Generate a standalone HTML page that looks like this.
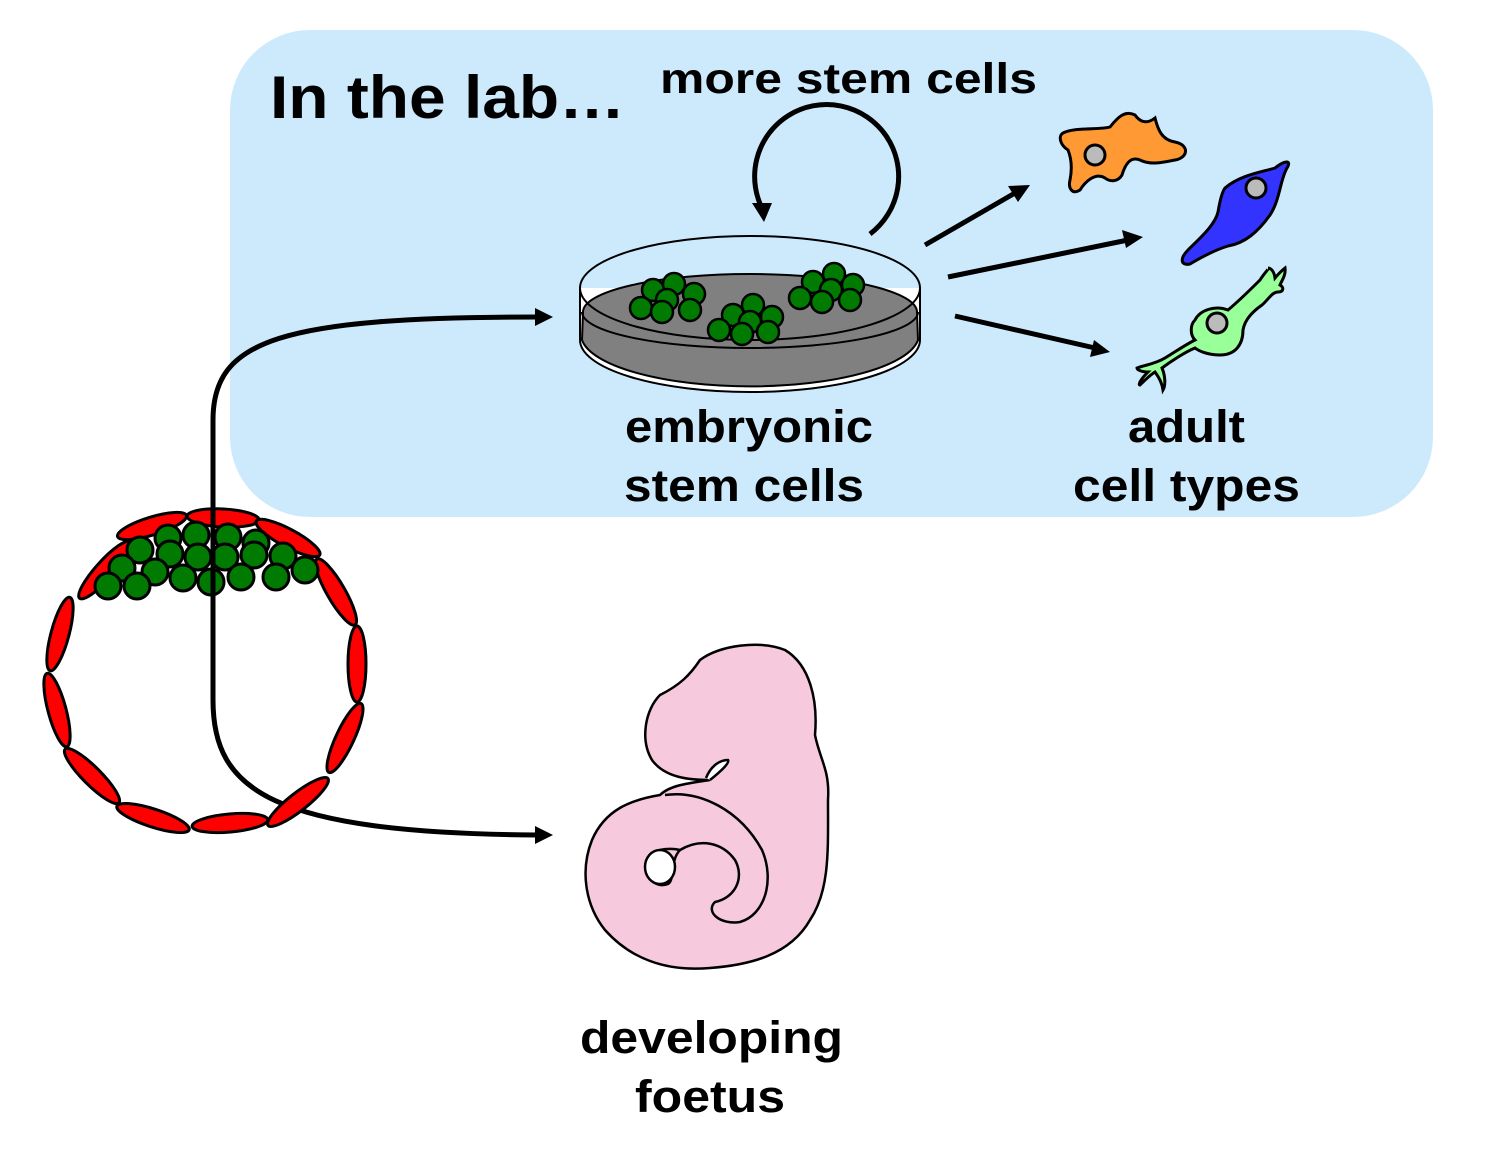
<!DOCTYPE html>
<html><head><style>
html,body{margin:0;padding:0;background:#fff;}
svg{display:block;}
text{font-family:"Liberation Sans",Arial,sans-serif;font-weight:bold;fill:#000;}
</style></head><body>
<svg width="1500" height="1153" viewBox="0 0 1500 1153" xmlns="http://www.w3.org/2000/svg">
<rect x="230" y="30" width="1203" height="487" rx="80" fill="#cdeafd"/>
<text x="270" y="118" font-size="60" textLength="355" lengthAdjust="spacingAndGlyphs">In the lab…</text>
<text x="660" y="93" font-size="43" textLength="377" lengthAdjust="spacingAndGlyphs">more stem cells</text>
<text x="625" y="442" font-size="45" textLength="248" lengthAdjust="spacingAndGlyphs">embryonic</text>
<text x="624" y="501" font-size="45" textLength="240" lengthAdjust="spacingAndGlyphs">stem cells</text>
<text x="1128" y="442" font-size="45" textLength="117" lengthAdjust="spacingAndGlyphs">adult</text>
<text x="1073" y="501" font-size="45" textLength="227" lengthAdjust="spacingAndGlyphs">cell types</text>
<text x="580" y="1053" font-size="45" textLength="263" lengthAdjust="spacingAndGlyphs">developing</text>
<text x="635" y="1112" font-size="45" textLength="150" lengthAdjust="spacingAndGlyphs">foetus</text>

<path d="M870,234 A72,72 0 1 0 764,212" fill="none" stroke="#000" stroke-width="5"/>
<polygon points="752,203 772,203 764,222" fill="#000"/>

<path d="M580,288 L580,340 A170,52 0 0 0 920,340 L920,288" fill="#fff" stroke="#000" stroke-width="2"/>
<path d="M583,312 A167,38 0 0 1 917,312 L918,340 A169,52 0 0 1 582,340 Z" fill="#808080" stroke="#000" stroke-width="2"/>
<path d="M582,312 A168,36 0 0 0 918,312" fill="none" stroke="#000" stroke-width="2"/>
<ellipse cx="750" cy="288" rx="170" ry="52" fill="none" stroke="#000" stroke-width="2"/>
<g fill="#007a00" stroke="#000" stroke-width="2.5">
<circle cx="653" cy="290" r="11"/><circle cx="674" cy="284" r="11"/><circle cx="694" cy="294" r="11"/><circle cx="641" cy="308" r="11"/><circle cx="667" cy="300" r="11"/><circle cx="662" cy="312" r="11"/><circle cx="690" cy="310" r="11"/>
<circle cx="753" cy="305" r="11"/><circle cx="733" cy="315" r="11"/><circle cx="772" cy="317" r="11"/><circle cx="750" cy="322" r="11"/><circle cx="719" cy="330" r="11"/><circle cx="742" cy="334" r="11"/><circle cx="768" cy="332" r="11"/>
<circle cx="813" cy="282" r="11"/><circle cx="834" cy="274" r="11"/><circle cx="853" cy="285" r="11"/><circle cx="831" cy="290" r="11"/><circle cx="800" cy="298" r="11"/><circle cx="822" cy="302" r="11"/><circle cx="850" cy="300" r="11"/>
</g>

<g stroke="#000" stroke-width="5" fill="none">
<line x1="925" y1="245" x2="1015" y2="193"/>
<line x1="948" y1="277" x2="1128" y2="240"/>
<line x1="955" y1="316" x2="1095" y2="348"/>
</g>
<polygon points="1030,185 1008,186 1018,202" fill="#000"/>
<polygon points="1143,237 1122,230 1126,248" fill="#000"/>
<polygon points="1110,352 1094,340 1090,357" fill="#000"/>

<path d="M1063,133 C1075,127 1100,130 1110,127 C1118,117 1125,110 1135,115 C1142,125 1150,122 1155,118 C1158,130 1162,140 1175,142 C1190,145 1188,158 1175,160 C1160,163 1150,165 1140,160 C1130,156 1125,165 1122,175 C1118,182 1110,182 1105,178 C1095,172 1085,182 1080,190 C1072,195 1068,188 1070,180 C1072,170 1072,160 1068,150 C1060,145 1058,136 1063,133 Z" fill="#ff9933" stroke="#000" stroke-width="3"/>
<circle cx="1095" cy="155" r="10" fill="#bbb" stroke="#000" stroke-width="3"/>
<path d="M1225,188 C1240,175 1262,172 1275,168 C1285,160 1292,160 1287,168 C1280,180 1280,200 1270,215 C1258,232 1245,243 1228,246 C1215,250 1200,258 1190,264 C1180,266 1180,258 1188,250 C1200,238 1215,225 1218,212 C1220,200 1222,192 1225,188 Z" fill="#3333ff" stroke="#000" stroke-width="3"/>
<circle cx="1256" cy="188" r="10" fill="#bbb" stroke="#000" stroke-width="3"/>
<path d="M1195,320 C1200,310 1215,305 1228,310 C1240,300 1250,290 1260,280 C1265,272 1270,268 1268,268 C1270,268 1274,270 1275,278 C1280,272 1285,268 1285,268 C1286,275 1282,280 1280,285 C1284,287 1284,292 1278,292 C1272,292 1268,300 1262,305 C1255,310 1245,318 1243,330 C1243,345 1235,355 1220,355 C1210,355 1200,352 1195,348 C1185,352 1170,362 1162,368 C1165,375 1166,385 1163,390 C1162,382 1158,376 1155,372 C1150,375 1145,380 1140,385 C1138,385 1140,380 1148,372 C1142,372 1137,370 1137,368 C1145,365 1155,364 1165,358 C1175,352 1185,345 1195,340 C1190,335 1190,325 1195,320 Z" fill="#99ff99" stroke="#000" stroke-width="3"/>
<circle cx="1217" cy="323" r="10" fill="#bbb" stroke="#000" stroke-width="3"/>

<path d="M213,590 L213,420 C213,340 280,317 538,317" fill="none" stroke="#000" stroke-width="5"/>
<polygon points="553,317 535,308 535,326" fill="#000"/>
<path d="M213,590 L213,700 C213,790 270,833 538,835" fill="none" stroke="#000" stroke-width="5"/>
<polygon points="553,835 535,826 535,844" fill="#000"/>

<g fill="#ff0000" stroke="#000" stroke-width="3">
<ellipse transform="translate(223,518) rotate(3)" rx="36" ry="9"/>
<ellipse transform="translate(152,526) rotate(-17)" rx="36" ry="9"/>
<ellipse transform="translate(288,538) rotate(28)" rx="36" ry="9"/>
<ellipse transform="translate(105,570) rotate(-48)" rx="38" ry="9"/>
<ellipse transform="translate(336,592) rotate(60)" rx="38" ry="9"/>
<ellipse transform="translate(60,634) rotate(-75)" rx="38" ry="9"/>
<ellipse transform="translate(357,664) rotate(90)" rx="38" ry="9"/>
<ellipse transform="translate(57,710) rotate(75)" rx="38" ry="9"/>
<ellipse transform="translate(345,738) rotate(-65)" rx="38" ry="9"/>
<ellipse transform="translate(92,776) rotate(45)" rx="38" ry="9"/>
<ellipse transform="translate(298,802) rotate(-38)" rx="38" ry="9"/>
<ellipse transform="translate(153,818) rotate(18)" rx="38" ry="9"/>
<ellipse transform="translate(230,823) rotate(-5)" rx="38" ry="9"/>
</g>
<g fill="#007a00" stroke="#000" stroke-width="3">
<circle cx="168" cy="538" r="13"/><circle cx="196" cy="535" r="13"/><circle cx="228" cy="537" r="13"/><circle cx="256" cy="543" r="13"/>
<circle cx="140" cy="550" r="13"/><circle cx="170" cy="554" r="13"/><circle cx="198" cy="557" r="13"/><circle cx="225" cy="557" r="13"/><circle cx="254" cy="555" r="13"/><circle cx="283" cy="556" r="13"/><circle cx="305" cy="570" r="13"/>
<circle cx="122" cy="568" r="13"/><circle cx="155" cy="572" r="13"/>
<circle cx="108" cy="586" r="13"/><circle cx="137" cy="586" r="13"/><circle cx="183" cy="578" r="13"/><circle cx="211" cy="582" r="13"/><circle cx="241" cy="577" r="13"/><circle cx="276" cy="577" r="13"/>
</g>
<path d="M213,505 L213,595" stroke="#000" stroke-width="5"/>

<path d="M700,660 C720,645 760,640 785,650 C810,665 818,700 815,735 C820,760 830,770 828,800 C828,850 830,890 810,920 C790,955 750,965 710,968 C665,972 630,958 605,930 C585,905 580,870 592,840 C605,810 630,800 660,795 C670,785 690,783 710,780 C690,780 665,778 652,760 C640,740 645,710 660,695 C680,685 690,675 700,660 Z" fill="#f7c9dd" stroke="#000" stroke-width="2.5"/>
<path d="M710,780 C720,772 730,763 728,760 C718,760 710,768 706,778" fill="#fff" stroke="#000" stroke-width="2.5"/>
<path d="M665,795 C700,790 740,810 762,850 C775,880 765,915 740,922 C720,925 705,912 715,902 C735,898 745,878 735,860 C722,842 700,838 680,850 C670,860 675,880 668,884 C652,890 640,870 650,855 C658,848 672,848 680,850" fill="none" stroke="#000" stroke-width="2.5"/>
<ellipse cx="660" cy="867" rx="15" ry="17" fill="#fff" stroke="#000" stroke-width="2.5"/>
</svg>
</body></html>
